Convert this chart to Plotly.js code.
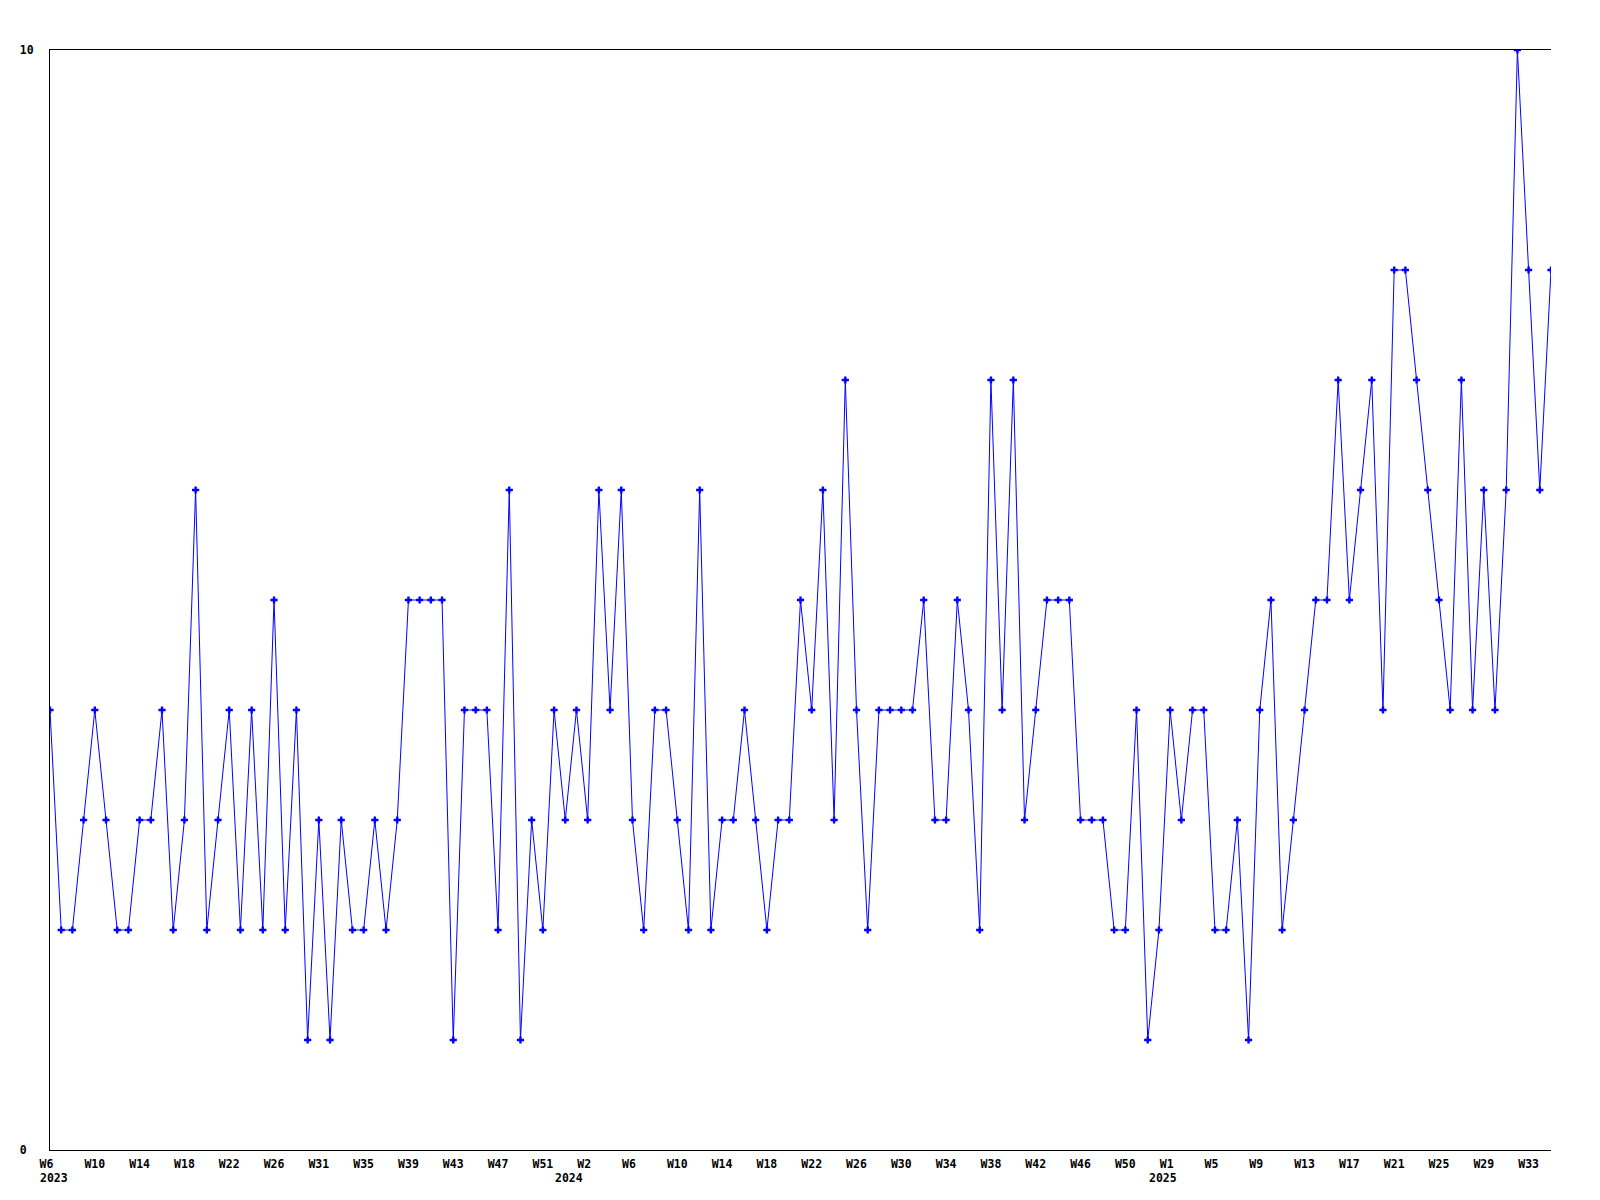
<!DOCTYPE html>
<html>
<head>
<meta charset="utf-8">
<script src="https://cdn.plot.ly/plotly-3.0.1.min.js"></script>
<style>html,body{margin:0;padding:0;background:#fff;}#chart{width:1600px;height:1200px;}</style>
</head>
<body>
<div id="chart"></div>
<script>
// Weekly values, first point = 2023 W6
const values = [
  4,2,2,3,4,3,2,2,3,3,4,2,3,6,2,3,4,2,4,2,5,2,4,1,3,1,3,2,2,3,2,3,
  5,5,5,5,1,4,4,4,2,6,1,3,2,4,3,4,3,6,4,6,3,2,4,4,3,2,6,2,3,3,4,3,2,3,3,5,4,
  6,3,7,4,2,4,4,4,4,5,3,3,5,4,2,7,4,7,3,4,5,5,5,3,3,3,2,2,4,1,2,4,3,4,4,2,
  2,3,1,4,5,2,3,4,5,5,7,5,6,7,4,8,8,7,6,5,4,7,4,6,4,6,10,8,6,8
];
// x tick labels, one every 4 points
const weekLabels = ["W6","W10","W14","W18","W22","W26","W31","W35","W39","W43","W47","W51",
  "W2","W6","W10","W14","W18","W22","W26","W30","W34","W38","W42","W46","W50",
  "W1","W5","W9","W13","W17","W21","W25","W29","W33"];
const tickStep = 4;
// year labels and the point index where each year starts
const yearLabels = ["2023","2024","2025"];
const yearStartIndex = [0, 46, 99];
const yTickVals = [0, 10];
const yTickText = ["0\u00a0", "10"];

const xs = values.map((_, i) => i);
const tickVals = weekLabels.map((_, i) => i * tickStep);
const tickText = weekLabels.map(t => t.length < 3 ? t + "\u00a0" : t);

const FONT = "DejaVu Sans Mono, Liberation Mono, monospace";
const FS = 11.5;

const trace = {
  x: xs, y: values, type: "scatter", mode: "lines+markers",
  line: {color: "rgb(0,0,255)", width: 1},
  marker: {symbol: "cross", size: 6, color: "rgb(0,0,255)", line: {width: 0}},
  hoverinfo: "skip"
};

const annotations = yearLabels.map((t, i) => ({
  text: t, x: yearStartIndex[i], xref: "x", y: 0, yref: "paper",
  xanchor: "left", yanchor: "top", xshift: -12, yshift: -19, showarrow: false,
  font: {family: FONT, size: FS, color: "#000", weight: "bold"}
}));

const layout = {
  width: 1600, height: 1200,
  margin: {l: 50, r: 49, t: 50, b: 50, pad: 0},
  paper_bgcolor: "#fff", plot_bgcolor: "#fff",
  showlegend: false,
  xaxis: {
    range: [0, values.length - 1], showgrid: false, zeroline: false,
    showline: true, linecolor: "#000", linewidth: 1, mirror: true,
    ticks: "", tickmode: "array", tickvals: tickVals, ticktext: tickText,
    tickangle: 0, ticklabelstandoff: 3,
    tickfont: {family: FONT, size: FS, color: "#000", weight: "bold"}
  },
  yaxis: {
    range: [0, 10], showgrid: false, zeroline: false,
    showline: true, linecolor: "#000", linewidth: 1, mirror: false,
    ticks: "", tickmode: "array", tickvals: yTickVals, ticktext: yTickText,
    ticklabelstandoff: 13,
    tickfont: {family: FONT, size: FS, color: "#000", weight: "bold"}
  },
  annotations: annotations
};

Plotly.newPlot("chart", [trace], layout, {staticPlot: true, displayModeBar: false});
</script>
</body>
</html>
